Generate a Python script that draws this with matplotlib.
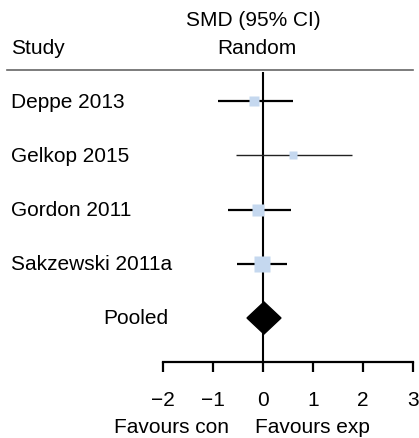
import numpy as np
import matplotlib.pyplot as plt
from matplotlib.patches import Polygon

plt.rcParams['font.family'] = ['Liberation Sans', 'DejaVu Sans']

# Study data (SMD, 95% CI)
studies = ["Deppe 2013", "Gelkop 2015", "Gordon 2011", "Sakzewski 2011a"]
smd = [-0.18, 0.60, -0.10, -0.02]
ci_low = [-0.90, -0.54, -0.70, -0.52]
ci_high = [0.60, 1.78, 0.56, 0.48]
weights = [18, 11, 25, 45]

pooled_label = "Pooled"
pooled_smd = 0.02
pooled_low = -0.32
pooled_high = 0.36

xticks = [-2, -1, 0, 1, 2, 3]
xtick_labels = ["\u22122", "\u22121", "0", "1", "2", "3"]

W, H = 419, 439
fig = plt.figure(figsize=(W / 100, H / 100), dpi=100)

def fx(px):
    return px / W

def fy(py):
    return 1 - py / H

# forest area: x -2..3 -> px 163..413, y px 73..363
ax = fig.add_axes([fx(163), fy(363), fx(413) - fx(163), fy(73) - fy(363)])
ax.set_xlim(-2, 3)
row_gap = 54.25
ax.set_ylim((363 - 102) / row_gap, (73 - 102) / row_gap)

ax.axvline(0, color="black", lw=1.5, zorder=1)

box_color = "#c5d8ef"
for i in range(len(studies)):
    lw = 1.0 if weights[i] < 15 else 1.6
    lc = "#222222" if weights[i] < 15 else "black"
    ax.plot([ci_low[i], ci_high[i]], [i, i], color=lc, lw=lw, zorder=2,
            solid_capstyle="butt")
    ax.plot(smd[i], i, marker="s", ms=np.sqrt(weights[i]) * 1.8,
            color=box_color, mec="none", zorder=3)

n = len(studies)
h = 16 / row_gap
diamond = Polygon([[pooled_low, n], [pooled_smd, n - h], [pooled_high, n],
                   [pooled_smd, n + h]], closed=True, color="black", zorder=4)
ax.add_patch(diamond)

for s in ["top", "left", "right"]:
    ax.spines[s].set_visible(False)
ax.spines["bottom"].set_linewidth(1.6)
ax.set_yticks([])
ax.set_xticks(xticks)
ax.set_xticklabels(xtick_labels)
ax.tick_params(axis="x", length=7, width=1.6, labelsize=15, pad=13)

fs = 15
# labels
for i, s in enumerate(studies):
    fig.text(fx(11), fy(102 + i * row_gap), s, fontsize=fs, va="center", ha="left")
fig.text(fx(103), fy(319), pooled_label, fontsize=fs, va="center", ha="left")

# header
fig.text(fx(11), fy(49), "Study", fontsize=fs, va="center", ha="left")
fig.text(fx(253), fy(20), "SMD (95% CI)", fontsize=fs, va="center", ha="center")
fig.text(fx(257), fy(49), "Random", fontsize=fs, va="center", ha="center")
fig.add_artist(plt.Line2D([fx(7), fx(413)], [fy(71), fy(71)], color="#666666", lw=1.2))

fig.text(fx(172), fy(428), "Favours con", fontsize=fs, va="center", ha="center")
fig.text(fx(312), fy(428), "Favours exp", fontsize=fs, va="center", ha="center")

fig.savefig("out.png", dpi=100)
